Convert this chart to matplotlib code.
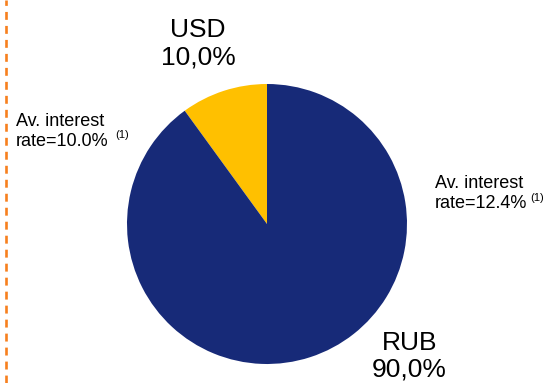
import matplotlib.pyplot as plt
from matplotlib.lines import Line2D

plt.rcParams['font.family'] = ['Liberation Sans', 'DejaVu Sans']

# datos del grafico
monedas = ['USD', 'RUB']
participacion = [10.0, 90.0]
colores = ['#ffc000', '#172a78']
tasas = ['10.0%', '12.4%']

fig = plt.figure(figsize=(5.48, 3.83), dpi=100)
ax = fig.add_axes([0, 0, 1, 1])

# torta centrada en pixel (267, 224) con radio 140
ax.pie(participacion, colors=colores, startangle=90, counterclock=True,
       center=(267, 383 - 224), radius=140, frame=True,
       wedgeprops=dict(linewidth=0))
ax.set_xlim(0, 548)
ax.set_ylim(0, 383)
ax.set_aspect('equal')
ax.axis('off')

# linea punteada a la izquierda
ax.add_line(Line2D([6, 6], [0, 383], color='#f7801e', lw=1.9,
                   linestyle=(0, (3.0, 2.3))))

def y(p):
    return 383 - p

def fmt(v):
    return ('%.1f%%' % v).replace('.', ',')

# etiquetas de las monedas
ax.text(198, y(37), monedas[0], ha='center', va='baseline', fontsize=19)
ax.text(198, y(65), fmt(participacion[0]), ha='center', va='baseline', fontsize=19)
ax.text(410, y(350), monedas[1], ha='center', va='baseline', fontsize=19)
ax.text(409, y(377), fmt(participacion[1]), ha='center', va='baseline', fontsize=19)

# tasas de interes
ax.text(16, y(126), 'Av. interest', ha='left', va='baseline', fontsize=13)
ax.text(16, y(146), 'rate=' + tasas[0], ha='left', va='baseline', fontsize=13)
ax.text(115, y(138), '(1)', ha='left', va='baseline', fontsize=8)
ax.text(435, y(188), 'Av. interest', ha='left', va='baseline', fontsize=13)
ax.text(435, y(208), 'rate=' + tasas[1], ha='left', va='baseline', fontsize=13)
ax.text(530, y(201), '(1)', ha='left', va='baseline', fontsize=8)

fig.savefig('out.png', dpi=100)
